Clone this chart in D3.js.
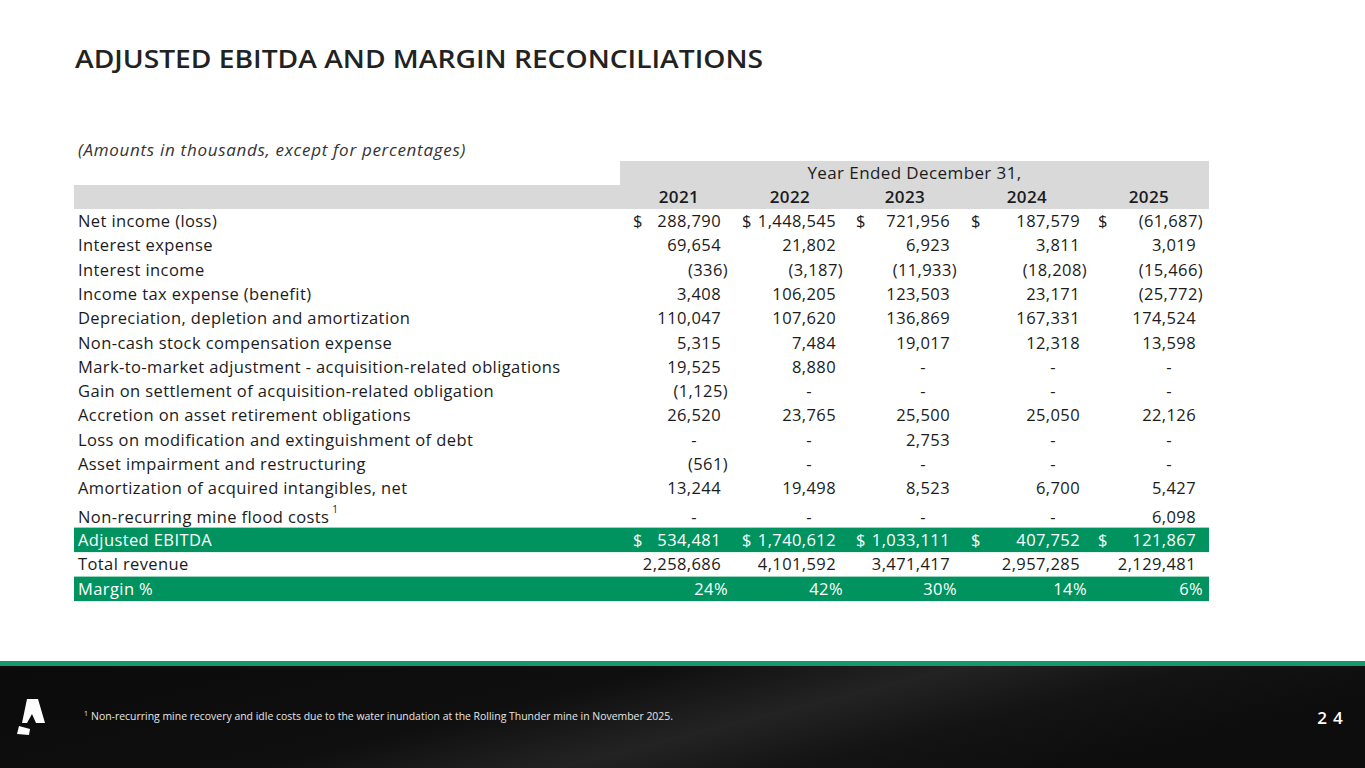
<!DOCTYPE html>
<html>
<head>
<meta charset="utf-8">
<script src="https://cdn.jsdelivr.net/npm/d3@7"></script>
<style>
  html, body { margin: 0; padding: 0; background: #fff; }
  svg { display: block; }
</style>
</head>
<body>
<script>
// row labels of the reconciliation
var rowLabels = [
  "Net income (loss)",
  "Interest expense",
  "Interest income",
  "Income tax expense (benefit)",
  "Depreciation, depletion and amortization",
  "Non-cash stock compensation expense",
  "Mark-to-market adjustment - acquisition-related obligations",
  "Gain on settlement of acquisition-related obligation",
  "Accretion on asset retirement obligations",
  "Loss on modification and extinguishment of debt",
  "Asset impairment and restructuring",
  "Amortization of acquired intangibles, net",
  "Non-recurring mine flood costs",
  "Adjusted EBITDA",
  "Total revenue",
  "Margin %"
];

var years = ["2021", "2022", "2023", "2024", "2025"];

// values per year, null = "-", last entry is margin %
var v2021 = [288790, 69654, -336, 3408, 110047, 5315, 19525, -1125, 26520, null, -561, 13244, null, 534481, 2258686, 24];
var v2022 = [1448545, 21802, -3187, 106205, 107620, 7484, 8880, null, 23765, null, null, 19498, null, 1740612, 4101592, 42];
var v2023 = [721956, 6923, -11933, 123503, 136869, 19017, null, null, 25500, 2753, null, 8523, null, 1033111, 3471417, 30];
var v2024 = [187579, 3811, -18208, 23171, 167331, 12318, null, null, 25050, null, null, 6700, null, 407752, 2957285, 14];
var v2025 = [-61687, 3019, -15466, -25772, 174524, 13598, null, null, 22126, null, null, 5427, 6098, 121867, 2129481, 6];

var dollarRows = ["Net income (loss)", "Adjusted EBITDA"];
var greenRows = ["Adjusted EBITDA", "Margin %"];
var percentRows = ["Margin %"];
var footnoteRows = ["Non-recurring mine flood costs"];

var footnote = "Non-recurring mine recovery and idle costs due to the water inundation at the Rolling Thunder mine in November 2025.";

var values = [v2021, v2022, v2023, v2024, v2025];

var FONT = "'Open Sans', 'Noto Sans', sans-serif";
var GREEN = "#00935f";
var GREY = "#d9d9d9";
var INK = "#1b1b1b";

var W = 1365, H = 768;
var svg = d3.select("body").append("svg")
  .attr("width", W)
  .attr("height", H)
  .style("font-family", FONT);

// table frame
var table = { left: 74, right: 1209, labelX: 78, head1: 161, head2: 185, body: 209, hdrLeft: 620 };

// column placement: right edge of figures, dollar sign x, header centre
var xRight = d3.scaleOrdinal().domain(years).range([721, 836, 950, 1080, 1196]);
var xDollar = d3.scaleOrdinal().domain(years).range([633, 742, 856, 971, 1098]);
var xHead = d3.scaleOrdinal().domain(years).range([679, 790, 905, 1027, 1149]);

// row heights (the footnoted row is a bit taller)
var rowH = rowLabels.map(function(d, i) { return footnoteRows.indexOf(d) >= 0 ? 27 : (i > 12 ? 24.5 : 24.3); });
var rowTop = [];
rowH.reduce(function(acc, h, i) { rowTop[i] = acc; return acc + h; }, table.body);

var fmt = d3.format(",");

// title
svg.append("text")
  .attr("x", 75)
  .attr("y", 68)
  .attr("font-size", 26)
  .attr("font-weight", 600)
  .attr("fill", "#222")
  .attr("textLength", 688)
  .attr("lengthAdjust", "spacingAndGlyphs")
  .text("ADJUSTED EBITDA AND MARGIN RECONCILIATIONS");

svg.append("text")
  .attr("x", table.labelX)
  .attr("y", 156)
  .attr("font-size", 17)
  .attr("letter-spacing", 0.7)
  .attr("font-style", "italic")
  .attr("fill", "#333")
  .text("(Amounts in thousands, except for percentages)");

// header bands
svg.append("rect")
  .attr("x", table.hdrLeft).attr("y", table.head1)
  .attr("width", table.right - table.hdrLeft).attr("height", table.head2 - table.head1)
  .attr("fill", GREY);
svg.append("rect")
  .attr("x", table.left).attr("y", table.head2)
  .attr("width", table.right - table.left).attr("height", table.body - table.head2)
  .attr("fill", GREY);

svg.append("text")
  .attr("x", (table.hdrLeft + table.right) / 2)
  .attr("y", table.head1 + 18)
  .attr("text-anchor", "middle")
  .attr("font-size", 17)
  .attr("letter-spacing", 0.4)
  .attr("fill", INK)
  .text("Year Ended December 31,");

svg.selectAll("text.year")
  .data(years)
  .enter()
  .append("text")
  .attr("class", "year")
  .attr("x", function(d) { return xHead(d); })
  .attr("y", table.head2 + 18)
  .attr("text-anchor", "middle")
  .attr("font-size", 17)
  .attr("font-weight", 600)
  .attr("letter-spacing", 0.4)
  .attr("fill", INK)
  .text(function(d) { return d; });

// green highlight bands
svg.selectAll("rect.band")
  .data(rowLabels.filter(function(d) { return greenRows.indexOf(d) >= 0; }))
  .enter()
  .append("rect")
  .attr("class", "band")
  .attr("x", table.left)
  .attr("y", function(d) { return rowTop[rowLabels.indexOf(d)]; })
  .attr("width", table.right - table.left)
  .attr("height", function(d) { return rowH[rowLabels.indexOf(d)]; })
  .attr("fill", GREEN);

var rows = svg.selectAll("g.row")
  .data(rowLabels)
  .enter()
  .append("g")
  .attr("class", "row")
  .attr("transform", function(d, i) {
    var base = footnoteRows.indexOf(d) >= 0 ? 22 : 18;
    return "translate(0," + (rowTop[i] + base) + ")";
  })
  .attr("fill", function(d) { return greenRows.indexOf(d) >= 0 ? "#fff" : INK; })
  .attr("font-size", 16.5)
  .attr("letter-spacing", 0.4);

rows.append("text")
  .attr("x", table.labelX)
  .text(function(d) { return d; })
  .filter(function(d) { return footnoteRows.indexOf(d) >= 0; })
  .append("tspan")
  .attr("dx", 3)
  .attr("dy", -10)
  .attr("font-size", 10)
  .text("1");

rows.each(function(label, i) {
  var g = d3.select(this);
  years.forEach(function(yr, j) {
    var v = values[j][i];
    if (dollarRows.indexOf(label) >= 0) {
      g.append("text").attr("x", xDollar(yr)).text("$");
    }
    if (v === null) {
      g.append("text").attr("x", xRight(yr) - 27).attr("text-anchor", "middle").text("-");
    } else if (percentRows.indexOf(label) >= 0) {
      g.append("text").attr("x", xRight(yr) + 7).attr("text-anchor", "end").text(v + "%");
    } else if (v < 0) {
      g.append("text").attr("x", xRight(yr) + 7).attr("text-anchor", "end").text("(" + fmt(-v) + ")");
    } else {
      g.append("text").attr("x", xRight(yr)).attr("text-anchor", "end").text(fmt(v));
    }
  });
});

// footer
var grad = svg.append("defs").append("linearGradient")
  .attr("id", "foot").attr("x1", 0).attr("y1", 0).attr("x2", 1).attr("y2", 0.3);
grad.append("stop").attr("offset", 0).attr("stop-color", "#0b0b0b");
grad.append("stop").attr("offset", 0.45).attr("stop-color", "#0f0f0f");
grad.append("stop").attr("offset", 0.65).attr("stop-color", "#232323");
grad.append("stop").attr("offset", 0.8).attr("stop-color", "#141414");
grad.append("stop").attr("offset", 1).attr("stop-color", "#0d0d0d");

svg.append("rect").attr("x", 0).attr("y", 666).attr("width", W).attr("height", H - 666).attr("fill", "url(#foot)");
svg.append("rect").attr("x", 0).attr("y", 661).attr("width", W).attr("height", 5).attr("fill", "#17986a");

// logo
svg.append("path")
  .attr("d", "M27,699 L38,699 L45,723 L36,723 L32,714 L27,723 L22,723 Z M19,726 L30,729 L29,735 L17,734 Z")
  .attr("fill", "#fff");

var fn = svg.append("text")
  .attr("x", 84)
  .attr("y", 720)
  .attr("font-size", 11)
  .attr("fill", "#e6e6e6");
fn.append("tspan").attr("font-size", 7).attr("dy", -4).text("1");
fn.append("tspan").attr("dx", 3).attr("dy", 4).attr("textLength", 582).attr("lengthAdjust", "spacingAndGlyphs").text(footnote);

svg.append("text")
  .attr("x", 1333)
  .attr("y", 724)
  .attr("text-anchor", "middle")
  .attr("font-size", 17)
  .attr("font-weight", 600)
  .attr("letter-spacing", 6)
  .attr("fill", "#fff")
  .text("24");
</script>
</body>
</html>
